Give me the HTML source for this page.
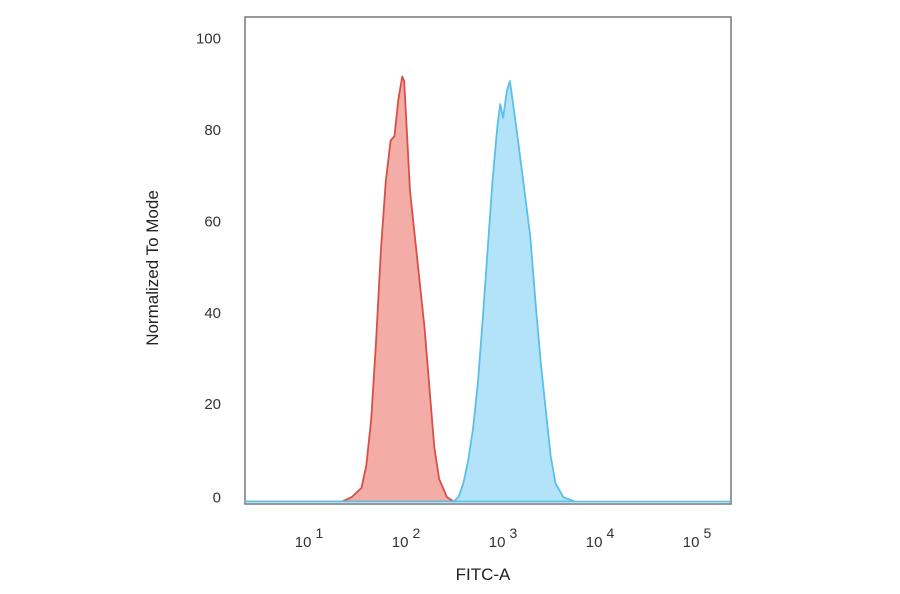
<!DOCTYPE html>
<html><head><meta charset="utf-8"><style>
html,body{margin:0;padding:0;background:#fff;}
svg{display:block;font-family:"Liberation Sans",Arial,sans-serif;}
</style></head><body>
<svg id="chart" width="900" height="594"></svg>
<script>
const tickExps=[1,2,3,4,5];
const yTicks=[0,20,40,60,80,100];
const redLog=[1.3,1.4,1.5,1.55,1.6,1.65,1.7,1.75,1.8,1.84,1.88,1.92,1.94,1.97,2.0,2.05,2.1,2.15,2.2,2.25,2.3,2.38,2.45];
const redVal=[0,1,3,8,18,35,55,70,79,80,88,93,92,80,68,58,48,38,25,12,5,1,0];
const blueLog=[2.45,2.5,2.55,2.6,2.65,2.7,2.75,2.8,2.85,2.9,2.93,2.96,3.0,3.03,3.07,3.12,3.18,3.24,3.3,3.35,3.4,3.45,3.5,3.58,3.7];
const blueVal=[0,1,4,9,16,26,40,55,70,82,87,84,90,92,86,78,68,58,42,30,20,10,4,1,0];

const NS="http://www.w3.org/2000/svg";
const svg=document.getElementById('chart');
const L=245,R=731,T=17,B=504;
const x=v=>313+97*(v-1);
const y=v=>501.6-4.57*v;
function mk(tag,attrs){const e=document.createElementNS(NS,tag);for(const k in attrs)e.setAttribute(k,attrs[k]);svg.appendChild(e);return e;}

const frame=mk('rect',{x:L,y:T,width:R-L,height:B-T,fill:'none',stroke:'#777','stroke-width':1.5});



function series(logs,vals,fill,stroke,name){
  let d=`M${L},${y(0)} L${x(logs[0])},${y(0)}`;
  logs.forEach((l,i)=>{d+=` L${x(l)},${y(vals[i])}`;});
  d+=` L${x(logs[logs.length-1])},${y(0)} Z`;
  const p=mk('path',{d:d,fill:fill,stroke:stroke,'stroke-width':1.8,'stroke-linejoin':'round'});
  
  
}
series(redLog,redVal,'#f4aca7','#d65048','red-histogram');
series(blueLog,blueVal,'#b3e3f8','#5bbfe9','blue-histogram');
const base=mk('line',{x1:L,x2:R,y1:y(0),y2:y(0),stroke:'#5bbfe9','stroke-width':1.8});



yTicks.forEach(v=>{
  const t=mk('text',{x:221,y:y(v)+(v===0?1:-1),'text-anchor':'end','font-size':15,fill:'#333'});
  t.textContent=v;
  
  
});
tickExps.forEach(k=>{
  const t=mk('text',{x:x(k)-4,y:547,'text-anchor':'middle','font-size':15,fill:'#333'});
  t.textContent='10';
  const s=document.createElementNS(NS,'tspan');
  s.setAttribute('dx','4');s.setAttribute('dy','-9');s.setAttribute('font-size','14');
  s.textContent=k;t.appendChild(s);
  
  
});
const xt=mk('text',{x:483,y:580,'text-anchor':'middle','font-size':17,fill:'#222'});
xt.textContent='FITC-A';


const yt=mk('text',{x:0,y:0,'text-anchor':'middle','font-size':17,fill:'#222',transform:'translate(158,268) rotate(-90)'});
yt.textContent='Normalized To Mode';


</script>
</body></html>
